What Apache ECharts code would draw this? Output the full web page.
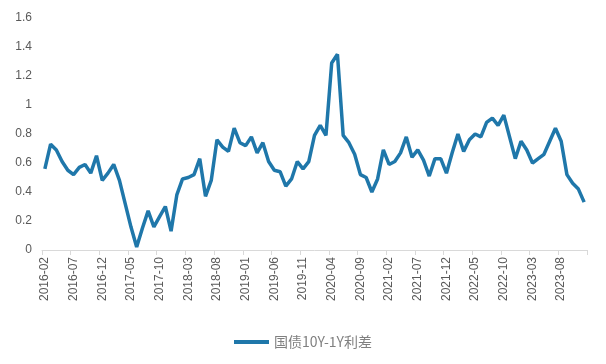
<!DOCTYPE html>
<html>
<head>
<meta charset="utf-8">
<script src="https://cdn.jsdelivr.net/npm/echarts@6/dist/echarts.min.js"></script>
<style>
html,body{margin:0;padding:0;background:#fff;}
#chart{width:606px;height:364px;}
</style>
</head>
<body>
<div id="chart"></div>
<script>
const startYear = 2016, startMonth = 2, monthCount = 95;
const categories = [];
for (let k = 0; k < monthCount; k++) {
  const m = startMonth - 1 + k;
  const y = startYear + Math.floor(m / 12);
  const mm = (m % 12) + 1;
  categories.push(y + '-' + (mm < 10 ? '0' + mm : '' + mm));
}
const seriesName = '国债10Y-1Y利差';
const spreadValues = [
  0.56, 0.73, 0.69, 0.61, 0.55, 0.52, 0.57, 0.59, 0.53, 0.65,
  0.48, 0.53, 0.59, 0.48, 0.32, 0.16, 0.02, 0.15, 0.27, 0.16,
  0.23, 0.30, 0.13, 0.38, 0.49, 0.50, 0.52, 0.63, 0.37, 0.48,
  0.76, 0.71, 0.68, 0.84, 0.74, 0.72, 0.78, 0.67, 0.74, 0.61,
  0.55, 0.54, 0.44, 0.49, 0.61, 0.56, 0.61, 0.79, 0.86, 0.79,
  1.29, 1.35, 0.79, 0.74, 0.66, 0.52, 0.50, 0.40, 0.49, 0.69,
  0.59, 0.61, 0.67, 0.78, 0.64, 0.69, 0.62, 0.51, 0.63, 0.63,
  0.53, 0.67, 0.80, 0.68, 0.76, 0.80, 0.78, 0.88, 0.91, 0.86,
  0.93, 0.78, 0.63, 0.75, 0.69, 0.60, 0.63, 0.66, 0.75, 0.84,
  0.75, 0.52, 0.46, 0.42, 0.33
];
const yTicks = { min: 0, max: 1.6, interval: 0.2 };

const chart = echarts.init(document.getElementById('chart'), null, { renderer: 'canvas' });
chart.setOption({
  animation: false,
  backgroundColor: '#ffffff',
  textStyle: { fontFamily: 'Liberation Sans, Arial, sans-serif' },
  grid: { left: 42, right: 19, top: 18, bottom: 114, containLabel: false },
  legend: {
    data: [seriesName],
    left: 229, top: 330,
    icon: 'rect', itemWidth: 35, itemHeight: 4, itemGap: 6,
    textStyle: { color: '#808080', fontSize: 14, fontFamily: 'Noto Sans CJK SC, sans-serif' }
  },
  xAxis: {
    type: 'category',
    data: categories,
    boundaryGap: true,
    axisLine: { show: true, lineStyle: { color: '#d9d9d9', width: 1 } },
    axisTick: { show: true, interval: 4, length: 5, lineStyle: { color: '#d9d9d9' } },
    axisLabel: { interval: 4, rotate: 90, margin: 7, color: '#595959', fontSize: 12 },
    splitLine: { show: false }
  },
  yAxis: {
    type: 'value',
    min: yTicks.min, max: yTicks.max, interval: yTicks.interval,
    axisLine: { show: false },
    axisTick: { show: false },
    splitLine: { show: false },
    axisLabel: { color: '#595959', fontSize: 12, margin: 10 }
  },
  series: [{
    name: seriesName,
    type: 'line',
    data: spreadValues,
    symbol: 'none',
    smooth: false,
    lineStyle: { color: '#1f77aa', width: 3.5 },
    itemStyle: { color: '#1f77aa' }
  }]
});
</script>
</body>
</html>
